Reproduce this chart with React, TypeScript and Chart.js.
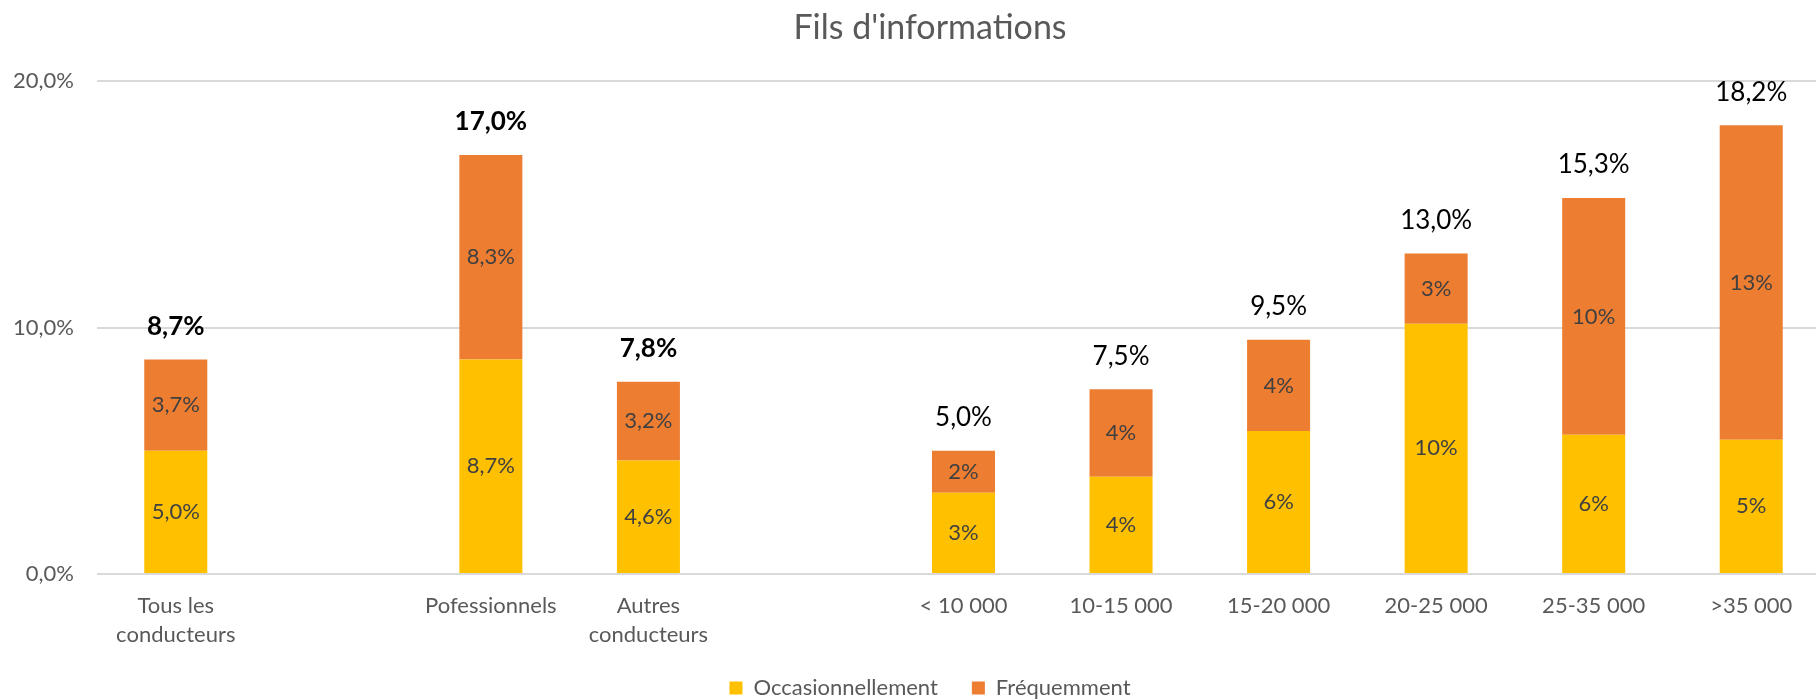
import React, { useEffect, useRef } from "react";
import { Chart, registerables } from "chart.js";

Chart.register(...registerables);

const categories: (string | string[])[] = [
  ["Tous les", "conducteurs"],
  "",
  "Pofessionnels",
  ["Autres", "conducteurs"],
  "",
  "< 10 000",
  "10-15 000",
  "15-20 000",
  "20-25 000",
  "25-35 000",
  ">35 000",
];

const occasionnellement: (number | null)[] = [5.0, null, 8.7, 4.6, null, 3.3, 3.95, 5.8, 10.15, 5.65, 5.45];
const frequemment: (number | null)[] = [3.7, null, 8.3, 3.2, null, 1.7, 3.55, 3.7, 2.85, 9.6, 12.75];
const totals: (number | null)[] = [8.7, null, 17.0, 7.8, null, 5.0, 7.5, 9.5, 13.0, 15.3, 18.2];
const segmentDecimals: number[] = [1, 1, 1, 1, 0, 0, 0, 0, 0, 0, 0];
const totalBold: boolean[] = [true, false, true, true, false, false, false, false, false, false, false];
const yTicks = { min: 0, max: 20, step: 10 };

const FONT = "Lato, 'Open Sans', sans-serif";
const fmt = (v: number, d: number) => v.toFixed(d).replace(".", ",") + "%";

const labelPlugin = {
  id: "segLabels",
  afterDatasetsDraw(chart: any) {
    const ctx = chart.ctx;
    ctx.save();
    ctx.textAlign = "center";
    ctx.textBaseline = "middle";
    ctx.fillStyle = "#404040";
    ctx.font = `22px ${FONT}`;
    chart.data.datasets.forEach((ds: any, di: number) => {
      const meta = chart.getDatasetMeta(di);
      meta.data.forEach((el: any, i: number) => {
        const v = ds.data[i];
        if (v == null) return;
        const { x, y, base } = el.getProps(["x", "y", "base"], true);
        ctx.fillText(fmt(v, segmentDecimals[i]), x, (y + base) / 2);
      });
    });
    const top = chart.getDatasetMeta(chart.data.datasets.length - 1);
    ctx.fillStyle = "#000000";
    totals.forEach((t, i) => {
      if (t == null) return;
      const el = top.data[i];
      const { x, y } = el.getProps(["x", "y"], true);
      ctx.font = `${totalBold[i] ? "bold " : ""}26px ${FONT}`;
      ctx.fillText(fmt(t, 1), x, y - 33);
    });
    ctx.restore();
  },
};

export default function App() {
  const ref = useRef<HTMLCanvasElement>(null);
  useEffect(() => {
    if (!ref.current) return;
    const chart = new Chart(ref.current, {
      type: "bar",
      data: {
        labels: categories,
        datasets: [
          {
            label: "Occasionnellement",
            data: occasionnellement,
            backgroundColor: "#FFC000",
            categoryPercentage: 1,
            barPercentage: 0.4,
          },
          {
            label: "Fréquemment",
            data: frequemment,
            backgroundColor: "#ED7D31",
            categoryPercentage: 1,
            barPercentage: 0.4,
          },
        ],
      },
      options: {
        responsive: false,
        animation: false,
        layout: { padding: 0 },
        plugins: {
          title: {
            display: true,
            text: "Fils d'informations",
            color: "#595959",
            font: { family: FONT, size: 34, weight: "normal", lineHeight: 1.2 },
            padding: { top: 8, bottom: 32.2 },
          },
          legend: {
            position: "bottom",
            labels: {
              color: "#595959",
              font: { family: FONT, size: 22 },
              boxWidth: 13,
              boxHeight: 13,
              padding: 34,
            },
          },
          tooltip: { enabled: false },
        },
        scales: {
          x: {
            stacked: true,
            grid: { display: false, drawTicks: false },
            border: { display: false },
            ticks: {
              color: "#595959",
              font: { family: FONT, size: 22, lineHeight: 29 / 22 },
              padding: 17.5,
              autoSkip: false,
              maxRotation: 0,
            },
            afterFit(s: any) {
              s.height = 69;
            },
          },
          y: {
            stacked: true,
            min: yTicks.min,
            max: yTicks.max,
            grid: { color: "#D9D9D9", lineWidth: 2, drawTicks: false },
            border: { display: false },
            ticks: {
              stepSize: yTicks.step,
              color: "#595959",
              font: { family: FONT, size: 22 },
              padding: 23,
              callback: (v: any) => fmt(Number(v), 1),
            },
            afterFit(s: any) {
              s.width = 97;
            },
          },
          yRight: {
            type: "linear",
            position: "right",
            display: true,
            grid: { display: false, drawTicks: false },
            border: { display: false },
            ticks: { display: false },
            afterFit(s: any) {
              s.width = 30;
            },
          },
        },
      },
      plugins: [labelPlugin],
    } as any);
    return () => chart.destroy();
  }, []);
  return (
    <div style={{ position: "absolute", left: 0, top: 0, width: 1816, height: 700, overflow: "hidden", background: "#fff" }}>
      <canvas ref={ref} width={1860} height={709} style={{ display: "block" }} />
    </div>
  );
}
